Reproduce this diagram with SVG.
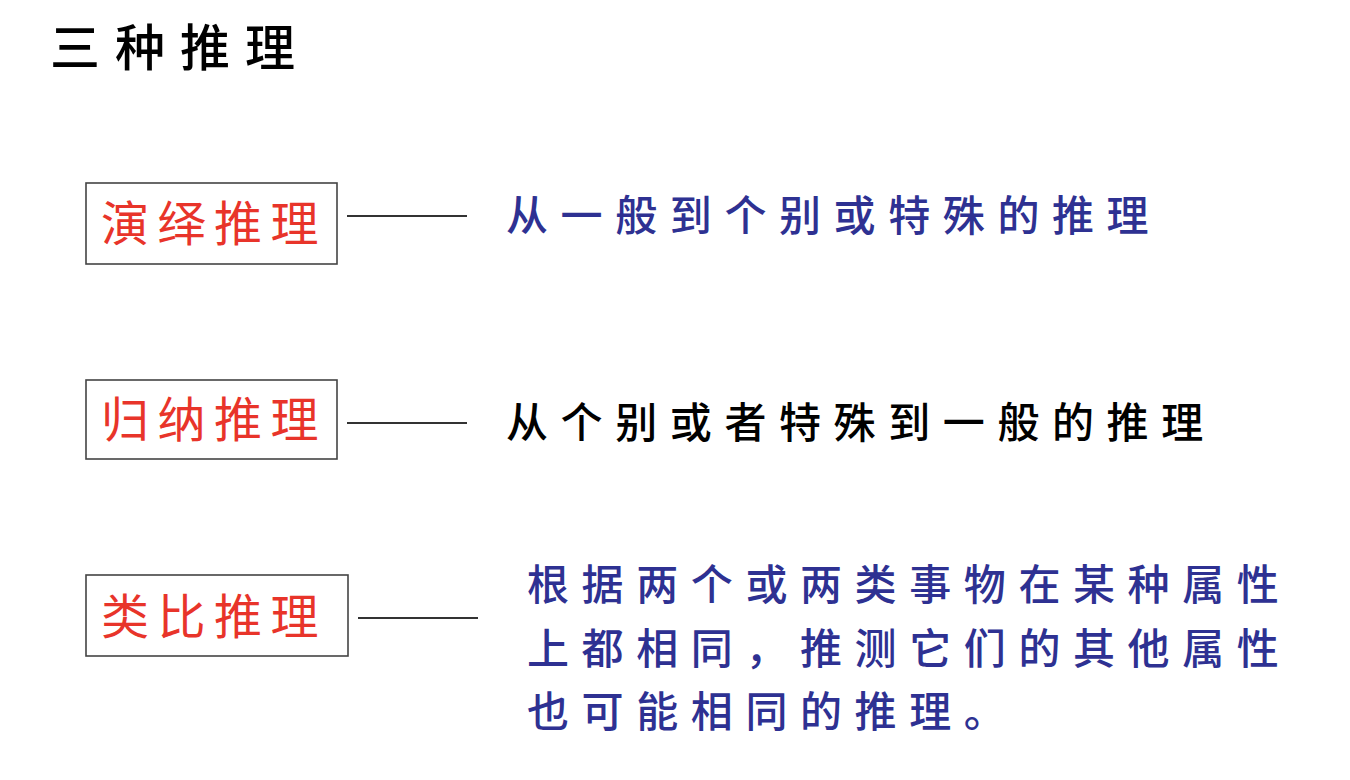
<svg xmlns="http://www.w3.org/2000/svg" width="1350" height="780" viewBox="0 0 1350 780">
<style>
text{font-family:"Noto Sans CJK SC","Noto Sans CJK TC",sans-serif;}
.title{font-size:50px;fill:#000;letter-spacing:15px;font-weight:500;}
.lbl{font-size:48px;fill:#e8342a;letter-spacing:8.5px;}
.box{fill:#fff;stroke:#444;stroke-width:1.6;}
.desc{font-size:42px;letter-spacing:12.6px;font-weight:500;}
.blue{fill:#2e3192;}
.black{fill:#000;}
.conn{stroke:#333;stroke-width:2;}
</style>
<rect width="1350" height="780" fill="#fff"/>
<text class="title" x="50" y="66">三种推理</text>
<g id="node-deduction">
<rect class="box" x="86" y="183" width="251" height="81"/>
<text class="lbl" x="101" y="241">演绎推理</text>
</g>
<g id="node-induction">
<rect class="box" x="86" y="380" width="251" height="79"/>
<text class="lbl" x="101" y="437">归纳推理</text>
</g>
<g id="node-analogy">
<rect class="box" x="86" y="575" width="262" height="81"/>
<text class="lbl" x="101" y="634">类比推理</text>
</g>
<g id="desc-deduction">
<text class="desc blue" x="506" y="231">从一般到个别或特殊的推理</text>
</g>
<g id="desc-induction">
<text class="desc black" x="506" y="438">从个别或者特殊到一般的推理</text>
</g>
<g id="desc-analogy">
<text class="desc blue" x="527" y="600">根据两个或两类事物在某种属性</text>
<text class="desc blue" x="527" y="664">上都相同，推测它们的其他属性</text>
<text class="desc blue" x="527" y="727">也可能相同的推理。</text>
</g>
<g id="connectors">
<line class="conn" x1="347" y1="216" x2="467" y2="216"/>
<line class="conn" x1="347" y1="423" x2="467" y2="423"/>
<line class="conn" x1="358" y1="618" x2="478" y2="618"/>
</g>
</svg>
